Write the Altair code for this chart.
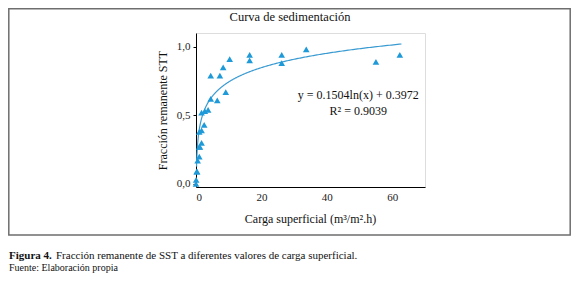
import altair as alt
import pandas as pd

# Observed points (carga superficial, fraccion remanente)
carga = [0.0, 0.05, 0.2, 0.35, 0.5, 1.0, 1.2, 1.0, 1.7, 1.0, 1.7, 2.5, 1.7, 2.7, 3.7,
         4.5, 6.5, 9.1, 4.5, 7.3, 8.3, 10.3, 16.4, 16.4, 26.2, 26.2, 33.7, 55.0, 62.3]
fraccion = [0.0, 0.03, 0.09, 0.09, 0.17, 0.20, 0.27, 0.27, 0.30, 0.38, 0.39, 0.43, 0.52, 0.53, 0.54,
            0.62, 0.61, 0.67, 0.79, 0.79, 0.85, 0.91, 0.94, 0.90, 0.94, 0.88, 0.98, 0.89, 0.94]

# Fitted equation printed on the chart
coef_a = 0.1504
coef_b = 0.3972
eq_text = ["y = 0.1504ln(x) + 0.3972", "R² = 0.9039"]
eq_x = [49.6, 49.6]
eq_y = [0.62, 0.50]

y_ticks = [0.0, 0.5, 1.0]
x_ticks = [0, 20, 40, 60]

FONT = "Liberation Serif"
BLUE = "#1f9ad8"

pts = pd.DataFrame({"carga": carga, "fraccion": fraccion})
eq = pd.DataFrame({"t": eq_text, "x": eq_x, "y": eq_y})
one = pd.DataFrame({"k": [0]})

xs = alt.Scale(domain=[0, 70], nice=False, zero=False)
ys = alt.Scale(domain=[-0.022, 1.1], nice=False, zero=False)

xax = alt.Axis(values=x_ticks, title="Carga superficial (m³/m².h)", ticks=False,
               grid=False, labelFont=FONT, labelFontSize=11, labelColor="#222",
               titleFont=FONT, titleFontSize=12, titleFontWeight="normal", titleColor="#111",
               titleX=114, titleY=31, titleBaseline="middle", domainColor="#000",
               labelPadding=4)
yax = alt.Axis(values=y_ticks, title="Fracción remanente STT", ticks=True, tickSize=3,
               tickColor="#000", grid=False, labelFont=FONT, labelFontSize=11,
               labelColor="#222", labelExpr="replace(format(datum.value, '.1f'), '.', ',')",
               titleFont=FONT, titleFontSize=12, titleFontWeight="normal", titleColor="#111",
               titleX=-34, titleY=77, titleBaseline="middle", titleAngle=-90,
               domainColor="#000", labelPadding=3)

points = alt.Chart(pts).mark_point(shape="triangle-up", filled=True, size=44,
                                   color=BLUE, opacity=1).encode(
    x=alt.X("carga:Q", scale=xs, axis=xax),
    y=alt.Y("fraccion:Q", scale=ys, axis=yax),
)

curve = alt.Chart(alt.sequence(-1.8, 4.145, 0.01, as_="t")).transform_calculate(
    cx="exp(datum.t)", cy=f"{coef_a}*log(exp(datum.t)) + {coef_b}"
).mark_line(color="#3a9bd2", strokeWidth=1.2).encode(
    x=alt.X("cx:Q", scale=xs), y=alt.Y("cy:Q", scale=ys), order="t:Q"
)

eqt = alt.Chart(eq).mark_text(font=FONT, fontSize=12, color="#111", align="center",
                              baseline="alphabetic").encode(
    x=alt.X("x:Q", scale=xs), y=alt.Y("y:Q", scale=ys), text="t:N"
)

title = alt.Chart(one).mark_text(text="Curva de sedimentación", font=FONT, fontSize=12.5,
                                 color="#111", align="center").encode(
    x=alt.value(94), y=alt.value(-16))

frame = alt.Chart(one).mark_rect(fill=None, stroke="#6e6e6e", strokeWidth=1.5).encode(
    x=alt.value(-187.2), x2=alt.value(374.2), y=alt.value(-24.2), y2=alt.value(202))

cap1 = alt.Chart(one).mark_text(text="Figura 4.", font=FONT, fontSize=11, fontWeight="bold",
                                color="#111", align="left", baseline="alphabetic").encode(
    x=alt.value(-187), y=alt.value(226))
cap2 = alt.Chart(one).mark_text(text="Fracción remanente de SST a diferentes valores de carga superficial.",
                                font=FONT, fontSize=11, color="#111", align="left",
                                baseline="alphabetic").encode(
    x=alt.value(-140), y=alt.value(226))
cap3 = alt.Chart(one).mark_text(text="Fuente: Elaboración propia", font=FONT, fontSize=10,
                                color="#111", align="left", baseline="alphabetic").encode(
    x=alt.value(-187), y=alt.value(238))

chart = alt.layer(frame, curve, points, eqt, title, cap1, cap2, cap3).properties(
    width=229, height=154,
    autosize=alt.AutoSizeParams(type="none"),
    padding={"left": 188, "top": 25, "right": 146, "bottom": 86},
).configure_view(stroke=None).configure(background="white")

chart.save("out.html", embed_options={"renderer": "svg", "actions": False})
